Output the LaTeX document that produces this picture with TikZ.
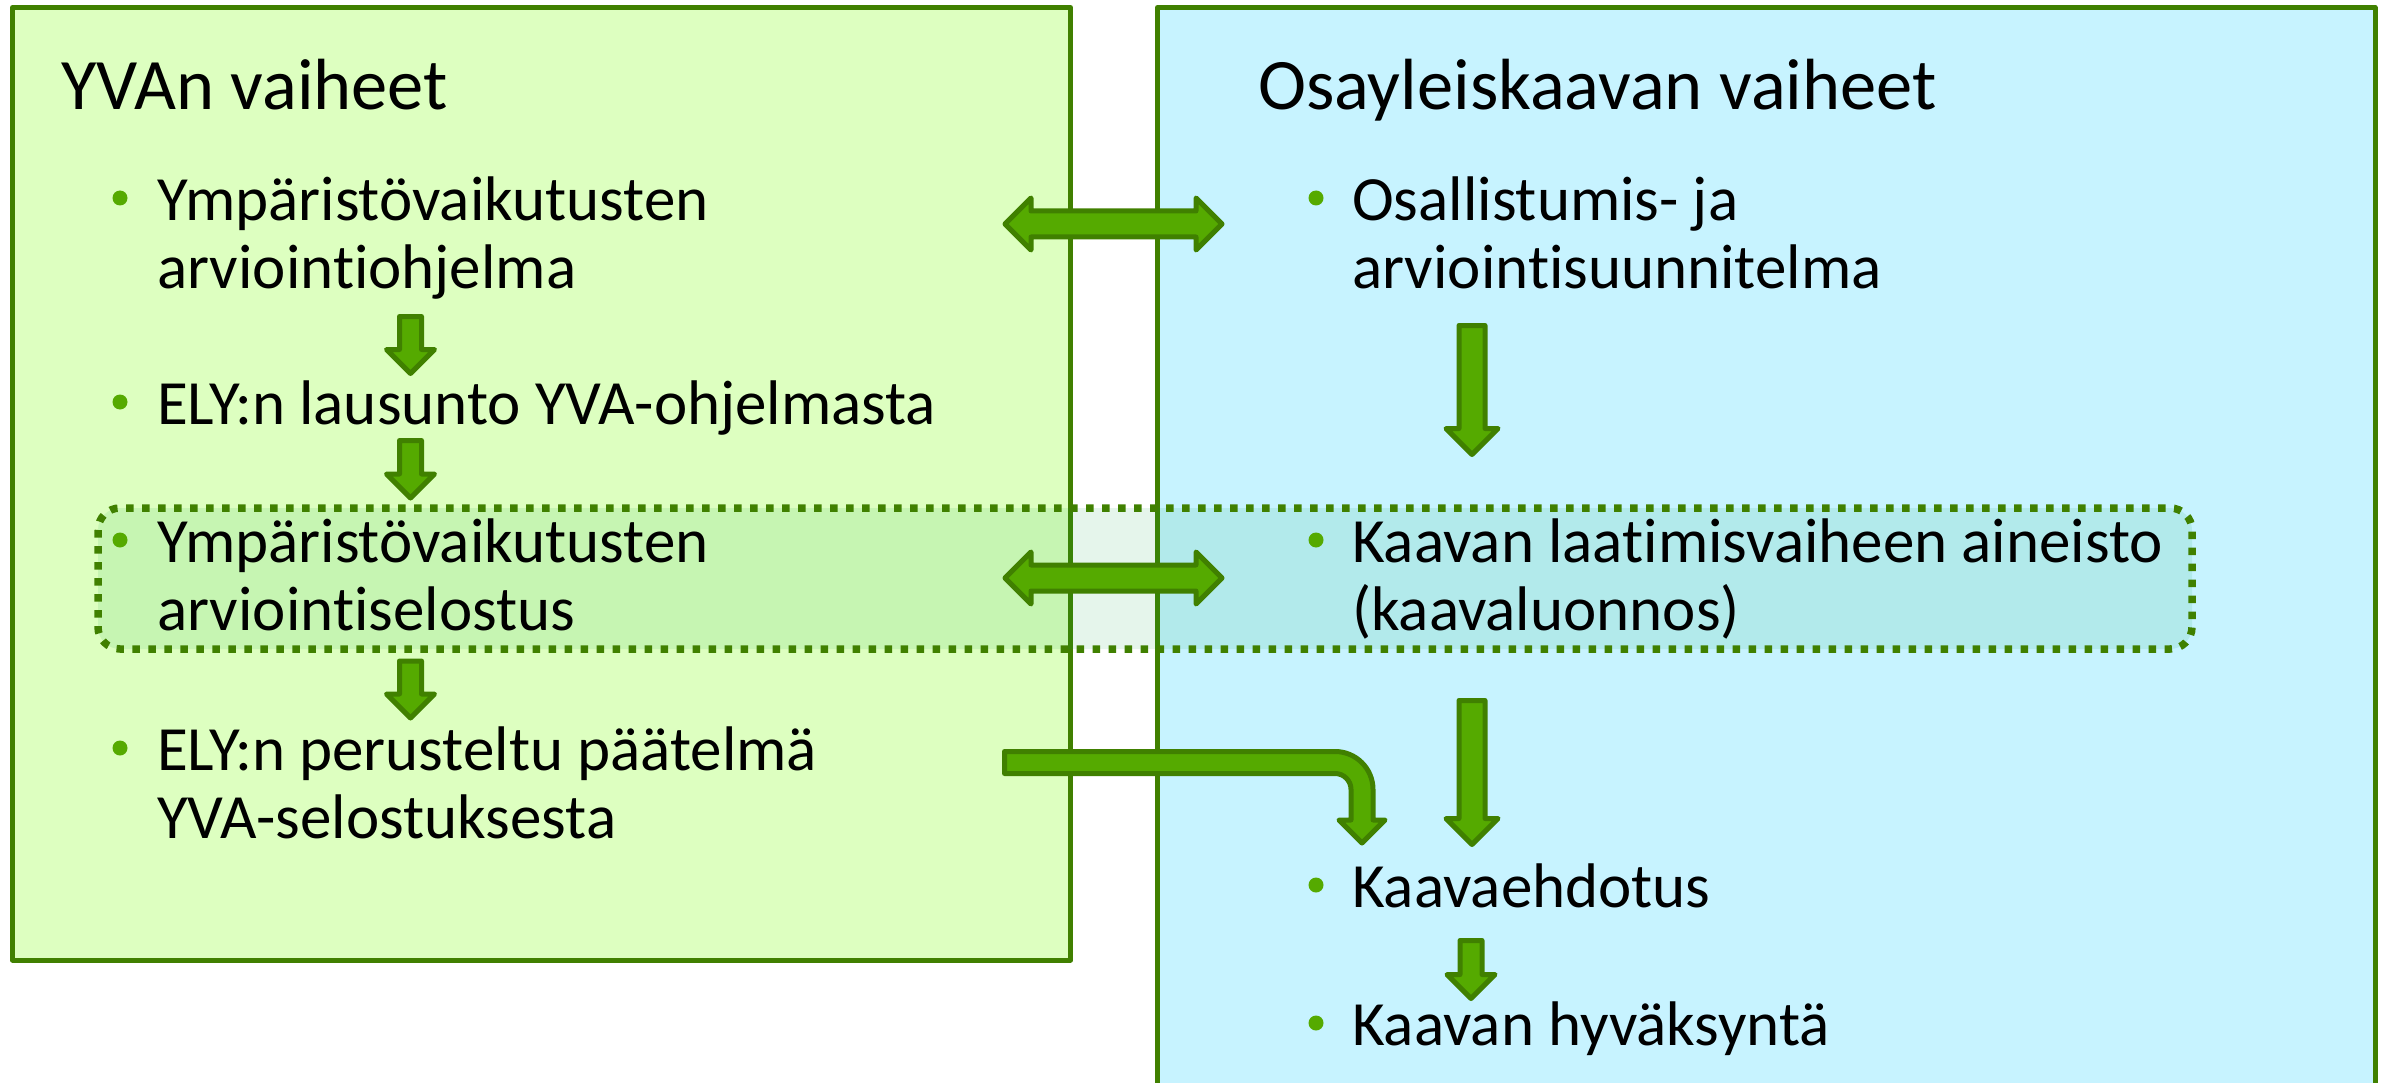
\documentclass[tikz,border=0pt]{standalone}
\usepackage{fontspec}
\setmainfont{Carlito}[Ligatures={NoCommon}]
\definecolor{lboxfill}{RGB}{221,255,192}
\definecolor{rboxfill}{RGB}{199,243,255}
\definecolor{dkgreen}{RGB}{64,128,0}
\definecolor{argreen}{RGB}{85,170,0}
\definecolor{ovgreen}{RGB}{0,160,60}
\tikzset{
  panel/.style={draw=dkgreen, line width=5pt, line join=round},
  arrowsty/.style={draw=dkgreen, fill=argreen, line width=5pt, line join=round},
  titletext/.style={anchor=base west, inner sep=0pt, font=\fontsize{72.5}{80}\selectfont},
  itemtext/.style={anchor=base west, inner sep=0pt, align=left, font=\fontsize{63}{68}\selectfont},
  bulletdot/.style={circle, fill=argreen, minimum size=15pt, inner sep=0pt},
  focusbox/.style={draw=dkgreen, line width=7.5pt, dash pattern=on 7.5pt off 8.5pt, rounded corners=22pt, fill=ovgreen, fill opacity=0.1},
}
% x, ytop, ytip, shaft half width, head half width
\newcommand\BlockDown[5]{%
  \draw[arrowsty] (#1-#4,#2) -- (#1+#4,#2) -- (#1+#4,#3-#5) -- (#1+#5,#3-#5) -- (#1,#3) -- (#1-#5,#3-#5) -- (#1-#4,#3-#5) -- cycle;}
% xleft, xright, y, shaft half, head half
\newcommand\BlockBoth[5]{%
  \draw[arrowsty] (#1,#3) -- (#1+#5,#3-#5) -- (#1+#5,#3-#4) -- (#2-#5,#3-#4) -- (#2-#5,#3-#5) -- (#2,#3) -- (#2-#5,#3+#5) -- (#2-#5,#3+#4) -- (#1+#5,#3+#4) -- (#1+#5,#3+#5) -- cycle;}
\begin{document}
\begin{tikzpicture}[x=1pt,y=-1pt]
\useasboundingbox (0,0) rectangle (2389,1083);
% panels
\draw[panel, fill=lboxfill] (12.5,7.5) rectangle (1070.5,960);
\draw[panel, fill=rboxfill] (1157.5,7.5) rectangle (2375,1130);
% highlighted stage
\draw[focusbox] (98,508) rectangle (2192,649);
% arrows, left column
\BlockDown{410.5}{316.5}{373.5}{11}{24}
\BlockDown{410.5}{440.5}{498}{11}{24}
\BlockDown{410.5}{661}{718}{11}{24}
% arrows, right column
\BlockDown{1472}{325.5}{454.5}{13}{26}
\BlockDown{1472}{700.5}{844.5}{13}{26}
\BlockDown{1471}{940.5}{998.5}{11}{24}
% double arrows
\BlockBoth{1005}{1222}{224}{13}{26}
\BlockBoth{1005}{1222}{578}{13}{26}
% bent arrow
\draw[arrowsty] (1004.5,751.5) -- (1335,751.5) arc (-90:0:38) -- (1373,820) -- (1385,820) -- (1362,843) -- (1339,820) -- (1351,820) -- (1351,789.5) arc (0:-90:16) -- (1004.5,773.5) -- cycle;
% titles
\node[titletext] (ltitle) at (61,110) {YVAn vaiheet};
\node[titletext] (rtitle) at (1258,110) {Osayleiskaavan vaiheet};
% left items (anchor = baseline of last line)
\node[itemtext] (l1) at (157,288) {Ympäristövaikutusten\\arviointiohjelma};
\node[itemtext] (l2) at (157,424) {ELY:n lausunto YVA-ohjelmasta};
\node[itemtext] (l3) at (157,630) {Ympäristövaikutusten\\arviointiselostus};
\node[itemtext] (l4) at (157,838) {ELY:n perusteltu päätelmä\\YVA-selostuksesta};
% right items
\node[itemtext] (r1) at (1352,288) {Osallistumis- ja\\arviointisuunnitelma};
\node[itemtext] (r2) at (1352,630) {Kaavan laatimisvaiheen aineisto\\(kaavaluonnos)};
\node[itemtext] (r3) at (1352,907) {Kaavaehdotus};
\node[itemtext] (r4) at (1352,1045) {Kaavan hyväksyntä};
% bullets
\node[bulletdot] (bl1) at (120,198) {};
\node[bulletdot] (bl2) at (120,402) {};
\node[bulletdot] (bl3) at (120,540) {};
\node[bulletdot] (bl4) at (120,748) {};
\node[bulletdot] (br1) at (1316,198) {};
\node[bulletdot] (br2) at (1316,540) {};
\node[bulletdot] (br3) at (1316,885) {};
\node[bulletdot] (br4) at (1316,1023) {};
\end{tikzpicture}
\end{document}
